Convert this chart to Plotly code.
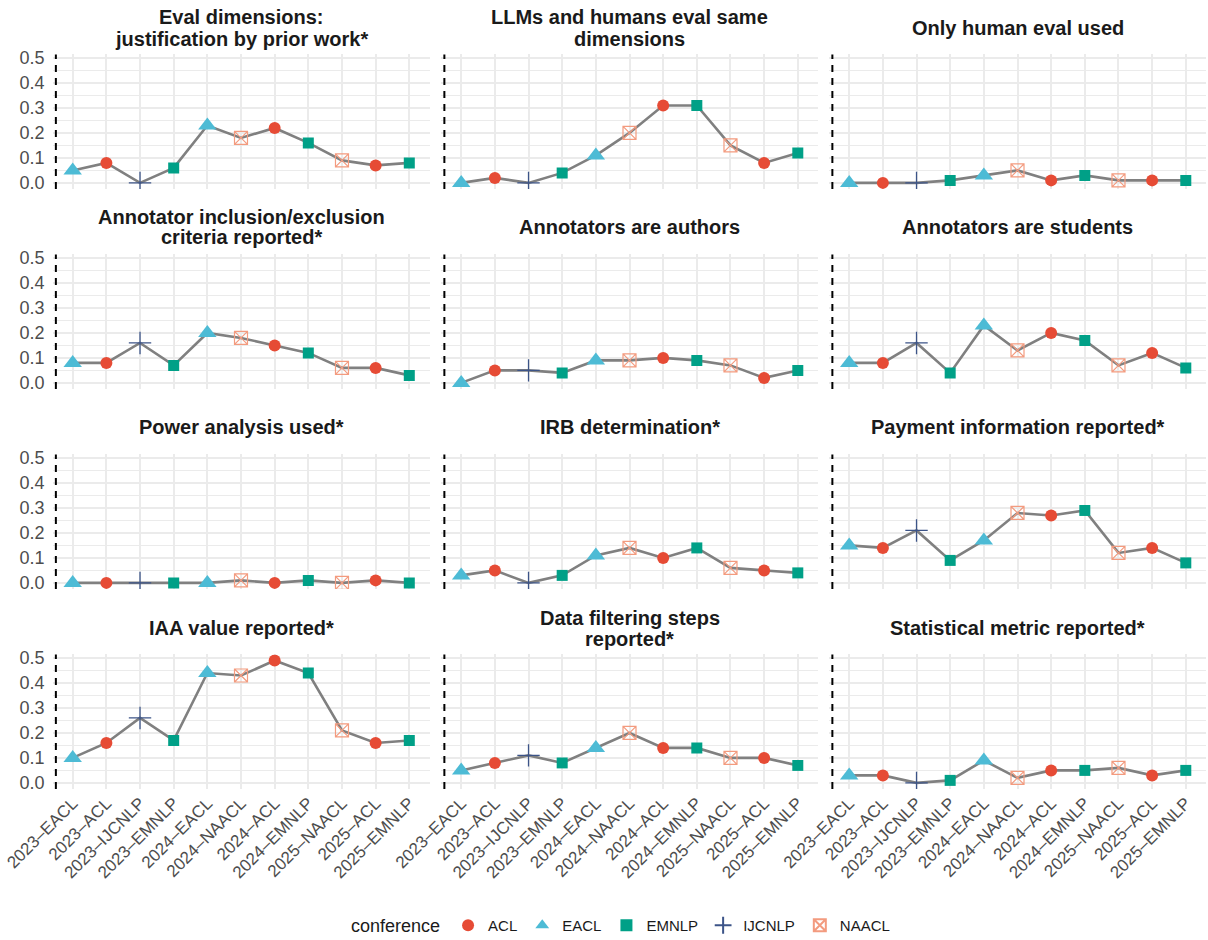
import plotly.graph_objects as go

# ---------------- data ----------------
categories = ["2023–EACL", "2023–ACL", "2023–IJCNLP", "2023–EMNLP", "2024–EACL", "2024–NAACL",
              "2024–ACL", "2024–EMNLP", "2025–NAACL", "2025–ACL", "2025–EMNLP"]

panel_titles = [
    "Eval dimensions:\njustification by prior work*",
    "LLMs and humans eval same\ndimensions",
    "Only human eval used",
    "Annotator inclusion/exclusion\ncriteria reported*",
    "Annotators are authors",
    "Annotators are students",
    "Power analysis used*",
    "IRB determination*",
    "Payment information reported*",
    "IAA value reported*",
    "Data filtering steps\nreported*",
    "Statistical metric reported*",
]

eval_dims_prior_work = [0.05, 0.08, 0.00, 0.06, 0.23, 0.18, 0.22, 0.16, 0.09, 0.07, 0.08]
llm_human_same_dims = [0.00, 0.02, 0.00, 0.04, 0.11, 0.20, 0.31, 0.31, 0.15, 0.08, 0.12]
only_human_eval = [0.00, 0.00, 0.00, 0.01, 0.03, 0.05, 0.01, 0.03, 0.01, 0.01, 0.01]
annot_incl_excl = [0.08, 0.08, 0.16, 0.07, 0.20, 0.18, 0.15, 0.12, 0.06, 0.06, 0.03]
annot_authors = [0.00, 0.05, 0.05, 0.04, 0.09, 0.09, 0.10, 0.09, 0.07, 0.02, 0.05]
annot_students = [0.08, 0.08, 0.16, 0.04, 0.23, 0.13, 0.20, 0.17, 0.07, 0.12, 0.06]
power_analysis = [0.00, 0.00, 0.00, 0.00, 0.00, 0.01, 0.00, 0.01, 0.00, 0.01, 0.00]
irb_determination = [0.03, 0.05, 0.00, 0.03, 0.11, 0.14, 0.10, 0.14, 0.06, 0.05, 0.04]
payment_info = [0.15, 0.14, 0.21, 0.09, 0.17, 0.28, 0.27, 0.29, 0.12, 0.14, 0.08]
iaa_value = [0.10, 0.16, 0.26, 0.17, 0.44, 0.43, 0.49, 0.44, 0.21, 0.16, 0.17]
data_filtering = [0.05, 0.08, 0.11, 0.08, 0.14, 0.20, 0.14, 0.14, 0.10, 0.10, 0.07]
statistical_metric = [0.03, 0.03, 0.00, 0.01, 0.09, 0.02, 0.05, 0.05, 0.06, 0.03, 0.05]

panel_values = [eval_dims_prior_work, llm_human_same_dims, only_human_eval,
                annot_incl_excl, annot_authors, annot_students,
                power_analysis, irb_determination, payment_info,
                iaa_value, data_filtering, statistical_metric]

conferences = ["ACL", "EACL", "EMNLP", "IJCNLP", "NAACL"]
y_ticks = [0.0, 0.1, 0.2, 0.3, 0.4, 0.5]

# ---------------- styles ----------------
conf_colors = {"ACL": "#E64B35", "EACL": "#4DBBD5", "EMNLP": "#00A087",
               "IJCNLP": "#3C5488", "NAACL": "#F39B7F"}
conf_symbols = {"ACL": "circle", "EACL": "triangle-up", "EMNLP": "square",
                "IJCNLP": "cross-thin", "NAACL": "square-x-open"}
conf_sizes = {"ACL": 12, "EACL": 16, "EMNLP": 11, "IJCNLP": 16, "NAACL": 13}
conf_linew = {"ACL": 0, "EACL": 0, "EMNLP": 0, "IJCNLP": 1.3, "NAACL": 1.2}

W, H = 1208, 940
col_left = [52.5, 441.0, 829.0]
col_width = 377.0
row_top = [54.4, 254.4, 454.4, 654.4]
row_height = 134.6
title_center = [28, 227, 427, 628]
FONT = "Liberation Sans, Arial, sans-serif"
GRID = "#EBEBEB"

x_range = [-0.6, len(categories) - 0.4]
y_range = [-0.0245, 0.5145]

conf_of = [c.split("–")[1] for c in categories]

fig = go.Figure()
legend_done = set()
annotations = []
shapes = []

for i, (title, vals) in enumerate(zip(panel_titles, panel_values)):
    r, c = divmod(i, 3)
    n = i + 1
    xa = "x" if n == 1 else f"x{n}"
    ya = "y" if n == 1 else f"y{n}"
    # line
    fig.add_trace(go.Scatter(x=categories, y=vals, mode="lines",
                             line=dict(color="#808080", width=2.6),
                             xaxis=xa, yaxis=ya, showlegend=False, hoverinfo="skip"))
    # markers per conference
    for conf in conferences:
        xs = [cat for cat, cf in zip(categories, conf_of) if cf == conf]
        ys = [v for v, cf in zip(vals, conf_of) if cf == conf]
        fig.add_trace(go.Scatter(
            x=xs, y=ys, mode="markers", name=conf, legendgroup=conf,
            showlegend=conf not in legend_done,
            marker=dict(symbol=conf_symbols[conf], size=conf_sizes[conf],
                        color=conf_colors[conf],
                        line=dict(color=conf_colors[conf], width=conf_linew[conf])),
            xaxis=xa, yaxis=ya))
        legend_done.add(conf)

    x0 = col_left[c] / W
    x1 = (col_left[c] + col_width) / W
    y1 = 1 - row_top[r] / H
    y0 = 1 - (row_top[r] + row_height) / H
    xkey = "xaxis" if n == 1 else f"xaxis{n}"
    ykey = "yaxis" if n == 1 else f"yaxis{n}"
    fig.layout[xkey] = dict(
        domain=[x0, x1], anchor=ya, type="category", categoryorder="array",
        categoryarray=categories, range=x_range, showgrid=True, gridcolor=GRID,
        gridwidth=1.5, zeroline=False, showline=False, ticks="", automargin=False,
        showticklabels=(r == 3), tickangle=-45,
        tickfont=dict(family=FONT, size=17, color="#4D4D4D"),
    )
    fig.layout[ykey] = dict(
        domain=[y0, y1], anchor=xa, range=y_range, tickvals=y_ticks,
        ticktext=[f"{t:.1f}" for t in y_ticks], automargin=False,
        showgrid=True, gridcolor=GRID, gridwidth=1.5, zeroline=False,
        showline=False, ticks="", showticklabels=(c == 0), ticklabelstandoff=7,
        tickfont=dict(family=FONT, size=18, color="#4D4D4D"),
        minor=dict(dtick=0.05, tick0=0.05, showgrid=True, gridcolor=GRID, gridwidth=1.0),
    )
    # dashed vertical reference line before first category
    shapes.append(dict(type="line", xref=xa, yref=f"{ya} domain",
                       x0=-0.5, x1=-0.5, y0=0, y1=1,
                       line=dict(color="black", width=2, dash="7px,6px")))
    # panel titles (one annotation per line)
    lines = title.split("\n")
    xc = (col_left[c] + col_width / 2) / W
    if len(lines) == 1:
        ys_px = [title_center[r]]
    else:
        ys_px = [title_center[r] - 10.5, title_center[r] + 10.5]
    for line_txt, ypx in zip(lines, ys_px):
        annotations.append(dict(text=f"<b>{line_txt}</b>", x=xc, y=1 - ypx / H,
                                xref="paper", yref="paper", xanchor="center",
                                yanchor="middle", showarrow=False,
                                font=dict(family=FONT, size=20, color="#1A1A1A")))

fig.update_layout(
    width=W, height=H, margin=dict(l=0, r=0, t=0, b=0, autoexpand=False),
    paper_bgcolor="white", plot_bgcolor="white",
    annotations=annotations, shapes=shapes,
    legend=dict(orientation="h", x=622 / W, xanchor="center", y=1 - 926 / H, yanchor="middle",
                title=dict(text="conference", font=dict(family=FONT, size=18, color="#1A1A1A"),
                           side="left"),
                font=dict(family=FONT, size=15, color="#1A1A1A"),
                itemsizing="constant"),
    font=dict(family=FONT),
)

fig.write_html("out.html", config={"displayModeBar": False},
               post_script="document.body.style.margin='0';document.body.style.overflow='hidden';")
